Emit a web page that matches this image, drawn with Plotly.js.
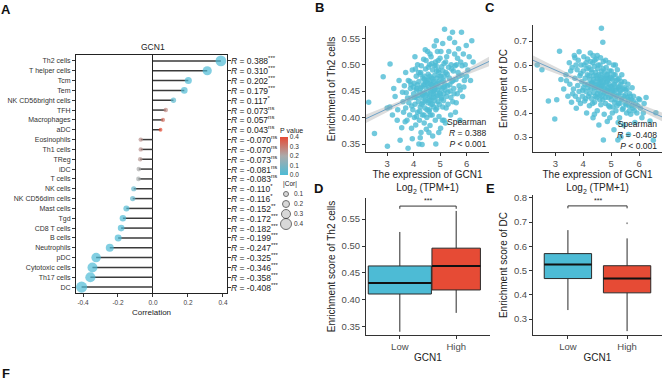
<!DOCTYPE html>
<html><head><meta charset="utf-8">
<script src="https://cdn.plot.ly/plotly-3.0.1.min.js"></script>
<style>html,body{margin:0;padding:0;background:#fff}#chart{width:669px;height:383px}</style>
</head><body><div id="chart"></div>
<script>
// ---------- Panel A data ----------
const cells = ['Th2 cells','T helper cells','Tcm','Tem','NK CD56bright cells','TFH','Macrophages','aDC','Eosinophils','Th1 cells','TReg','iDC','T cells','NK cells','NK CD56dim cells','Mast cells','Tgd','CD8 T cells','B cells','Neutrophils','pDC','Cytotoxic cells','Th17 cells','DC'];
const rVals = [0.388,0.310,0.202,0.179,0.117,0.073,0.057,0.043,-0.070,-0.070,-0.073,-0.081,-0.083,-0.110,-0.116,-0.152,-0.172,-0.182,-0.199,-0.247,-0.325,-0.346,-0.358,-0.408];
const pVals = [0.0001,0.0001,0.0001,0.003,0.03,0.27,0.33,0.40,0.25,0.25,0.24,0.20,0.19,0.05,0.045,0.01,0.001,0.001,0.0005,0.0001,0.0001,0.0001,0.0001,0.0001];
const sigs = ['***','***','***','***','*','ns','ns','ns','ns','ns','ns','ns','ns','*','*','**','***','***','***','***','***','***','***','***'];
const corLegend = [0.1,0.2,0.3,0.4];
const pTicks = [0,0.1,0.2,0.3,0.4];

// ---------- Panel B data (GCN1 vs Th2) ----------
const xB = [2.30,2.52,2.85,3.01,3.11,3.10,3.20,3.30,3.38,3.45,3.49,3.55,3.60,3.62,3.65,3.70,3.72,3.75,3.79,3.80,3.82,3.85,3.88,3.90,3.92,3.95,3.97,4.00,4.02,4.03,4.05,4.08,4.10,4.10,4.12,4.15,4.15,4.18,4.20,4.20,4.22,4.24,4.25,4.27,4.28,4.30,4.30,4.32,4.33,4.35,4.36,4.38,4.40,4.40,4.42,4.43,4.45,4.46,4.48,4.48,4.50,4.50,4.52,4.53,4.55,4.55,4.57,4.58,4.60,4.60,4.62,4.62,4.64,4.65,4.66,4.68,4.68,4.70,4.70,4.72,4.72,4.74,4.75,4.76,4.78,4.78,4.80,4.80,4.82,4.83,4.84,4.85,4.86,4.88,4.88,4.90,4.90,4.92,4.94,4.95,4.96,4.98,5.00,5.00,5.02,5.04,5.05,5.06,5.08,5.10,5.10,5.12,5.14,5.15,5.17,5.18,5.20,5.22,5.24,5.25,5.28,5.30,5.32,5.35,5.36,5.38,5.40,5.42,5.45,5.47,5.48,5.50,5.52,5.55,5.58,5.60,5.62,5.65,5.68,5.70,5.72,5.75,5.78,5.81,5.82,5.85,5.88,5.92,5.95,5.99,6.05,6.10,6.20,6.25,3.90,4.10,4.35,4.55,4.75,4.95,5.15,4.45,4.65,4.85,4.25,4.60,4.80,5.05,4.40,4.70,
  3.40,3.58,3.68,3.77,3.86,3.93,3.99,4.04,4.07,4.11,4.14,4.17,4.19,4.23,4.26,4.29,4.31,4.34,4.37,4.39,4.41,4.44,4.47,4.49,4.51,4.54,4.56,4.59,4.61,4.63,4.66,4.67,4.69,4.71,4.73,4.77,4.79,4.81,4.84,4.87,4.89,4.91,4.93,4.97,4.99,5.01,5.03,5.07,5.09,5.11,5.13,5.16,5.19,5.21,5.23,5.27,5.29,5.33,5.37,5.41,5.44,5.49,5.53,5.57,5.61,5.66,5.71,5.76,5.83,5.90,4.58,4.95,4.25,5.15,3.95,4.62,4.44,4.86,4.05,3.70,5.55,6.00,6.15,3.25,3.00];
const yB = [0.429,0.370,0.477,0.346,0.501,0.420,0.405,0.440,0.395,0.470,0.357,0.381,0.430,0.410,0.460,0.418,0.447,0.395,0.342,0.470,0.428,0.405,0.455,0.437,0.380,0.490,0.415,0.445,0.465,0.400,0.425,0.386,0.478,0.438,0.455,0.410,0.500,0.430,0.350,0.468,0.395,0.448,0.420,0.485,0.372,0.458,0.438,0.349,0.405,0.475,0.428,0.510,0.447,0.390,0.462,0.418,0.492,0.435,0.455,0.378,0.470,0.400,0.445,0.525,0.428,0.482,0.458,0.412,0.440,0.500,0.465,0.385,0.450,0.425,0.515,0.475,0.438,0.455,0.405,0.490,0.365,0.445,0.468,0.420,0.535,0.458,0.432,0.480,0.395,0.505,0.350,0.462,0.440,0.475,0.418,0.452,0.525,0.430,0.490,0.468,0.402,0.447,0.512,0.458,0.380,0.478,0.435,0.496,0.455,0.420,0.540,0.470,0.445,0.502,0.567,0.462,0.390,0.485,0.440,0.515,0.460,0.425,0.495,0.475,0.550,0.450,0.405,0.500,0.468,0.561,0.430,0.488,0.455,0.520,0.410,0.472,0.500,0.445,0.485,0.530,0.460,0.395,0.505,0.561,0.480,0.440,0.520,0.470,0.500,0.536,0.490,0.515,0.545,0.505,0.462,0.452,0.442,0.472,0.448,0.485,0.458,0.467,0.433,0.498,0.482,0.415,0.452,0.438,0.472,0.462,
  0.415,0.448,0.392,0.437,0.468,0.422,0.458,0.438,0.492,0.402,0.462,0.442,0.485,0.412,0.455,0.498,0.425,0.445,0.462,0.405,0.478,0.432,0.508,0.442,0.415,0.465,0.495,0.432,0.478,0.405,0.462,0.448,0.502,0.425,0.472,0.438,0.498,0.455,0.415,0.488,0.465,0.442,0.508,0.425,0.478,0.445,0.525,0.468,0.395,0.488,0.432,0.478,0.452,0.505,0.418,0.482,0.448,0.525,0.462,0.438,0.492,0.470,0.445,0.498,0.428,0.512,0.478,0.452,0.498,0.458,0.372,0.372,0.362,0.395,0.360,0.520,0.528,0.545,0.515,0.485,0.542,0.478,0.470,0.455,0.418];
const fitBx = [2.2,3.5,4.6,5.7,6.85];
const fitBy = [0.398,0.428,0.454,0.479,0.506];
const bandBlo = [0.390,0.424,0.4515,0.475,0.497];
const bandBhi = [0.406,0.432,0.4565,0.483,0.515];

// ---------- Panel C data (GCN1 vs DC) ----------
const xC = [2.35,2.52,2.75,2.98,3.05,3.15,3.20,3.30,3.38,3.45,3.50,3.52,3.58,3.60,3.65,3.68,3.70,3.72,3.75,3.78,3.80,3.82,3.85,3.88,3.90,3.92,3.95,3.97,4.00,4.00,4.02,4.05,4.07,4.10,4.10,4.12,4.15,4.16,4.18,4.20,4.22,4.24,4.25,4.27,4.28,4.30,4.32,4.34,4.35,4.36,4.38,4.40,4.40,4.42,4.44,4.45,4.46,4.48,4.50,4.50,4.52,4.54,4.55,4.56,4.58,4.60,4.60,4.62,4.63,4.65,4.65,4.66,4.68,4.70,4.70,4.70,4.72,4.72,4.74,4.75,4.76,4.78,4.80,4.80,4.82,4.83,4.85,4.86,4.88,4.88,4.90,4.92,4.93,4.95,4.96,4.98,5.00,5.00,5.02,5.04,5.05,5.07,5.08,5.10,5.10,5.12,5.14,5.15,5.17,5.18,5.20,5.22,5.24,5.25,5.26,5.28,5.30,5.32,5.34,5.36,5.38,5.40,5.42,5.45,5.46,5.48,5.50,5.52,5.55,5.58,5.60,5.62,5.64,5.66,5.70,5.72,5.75,5.78,5.80,5.85,5.88,5.92,5.98,6.05,6.10,6.18,6.25,6.39,6.51,6.60,5.35,4.45,4.60,4.75,4.90,5.05,4.55,4.85,4.30,4.68,
  3.40,3.55,3.62,3.74,3.83,3.91,3.98,4.03,4.06,4.09,4.13,4.17,4.21,4.23,4.26,4.29,4.31,4.33,4.37,4.39,4.41,4.43,4.47,4.49,4.51,4.53,4.57,4.59,4.61,4.64,4.67,4.69,4.71,4.73,4.77,4.79,4.81,4.84,4.87,4.89,4.91,4.94,4.97,4.99,5.01,5.03,5.06,5.09,5.11,5.13,5.16,5.19,5.21,5.23,5.27,5.29,5.31,5.33,5.37,5.39,5.43,5.47,5.51,5.54,5.57,5.61,5.65,5.69,5.74,5.79,5.83,5.95,6.02,6.15,4.50,4.62,4.35,4.80,4.15,5.15,4.95,4.40,5.25,3.85,3.70];
const yC = [0.600,0.580,0.450,0.375,0.455,0.658,0.540,0.500,0.560,0.470,0.610,0.520,0.445,0.590,0.500,0.640,0.545,0.470,0.420,0.580,0.515,0.620,0.490,0.555,0.440,0.600,0.530,0.470,0.575,0.505,0.635,0.450,0.545,0.610,0.490,0.400,0.560,0.520,0.470,0.590,0.430,0.540,0.650,0.500,0.580,0.460,0.525,0.610,0.380,0.555,0.485,0.595,0.445,0.530,0.570,0.505,0.625,0.465,0.545,0.410,0.585,0.495,0.560,0.350,0.520,0.600,0.475,0.540,0.435,0.753,0.510,0.575,0.490,0.695,0.550,0.455,0.288,0.615,0.525,0.395,0.570,0.500,0.545,0.440,0.590,0.480,0.530,0.365,0.560,0.505,0.465,0.610,0.520,0.425,0.550,0.490,0.575,0.455,0.510,0.400,0.540,0.475,0.600,0.520,0.330,0.445,0.560,0.495,0.410,0.535,0.470,0.580,0.288,0.505,0.440,0.545,0.380,0.485,0.520,0.455,0.560,0.415,0.500,0.350,0.470,0.530,0.440,0.495,0.400,0.465,0.520,0.310,0.430,0.480,0.395,0.455,0.505,0.420,0.470,0.360,0.440,0.400,0.460,0.420,0.380,0.440,0.465,0.367,0.287,0.401,0.300,0.515,0.530,0.485,0.540,0.500,0.510,0.495,0.525,0.515,
  0.535,0.575,0.480,0.600,0.455,0.565,0.495,0.600,0.520,0.460,0.585,0.505,0.555,0.480,0.615,0.520,0.570,0.440,0.540,0.505,0.620,0.470,0.555,0.520,0.480,0.600,0.540,0.455,0.510,0.560,0.470,0.530,0.585,0.500,0.545,0.465,0.520,0.560,0.490,0.540,0.430,0.575,0.510,0.470,0.545,0.490,0.425,0.560,0.480,0.520,0.455,0.500,0.430,0.540,0.475,0.510,0.440,0.495,0.530,0.460,0.420,0.505,0.475,0.435,0.500,0.455,0.410,0.470,0.430,0.450,0.410,0.430,0.455,0.400,0.640,0.630,0.640,0.620,0.625,0.600,0.380,0.395,0.360,0.655,0.630];
const fitCx = [2.2,3.5,4.6,5.7,6.82];
const fitCy = [0.620,0.554,0.498,0.441,0.384];
const bandClo = [0.600,0.544,0.492,0.431,0.366];
const bandChi = [0.640,0.564,0.504,0.451,0.402];

// ---------- Panels D / E data (boxplots) ----------
const groups = ['Low','High'];
const boxColors = ['#4DBBD5','#E64B35'];
const dLower = [0.341,0.376], dQ1 = [0.411,0.4185], dMed = [0.4315,0.463], dQ3 = [0.463,0.496], dUpper = [0.526,0.565];
const eLower = [0.337,0.250], eQ1 = [0.467,0.408], eMed = [0.525,0.467], eQ3 = [0.570,0.520], eUpper = [0.667,0.633];
const eOutY = [0.695];
const bracketD = [0.569,0.574];
const bracketE = [0.757,0.767];

// ---------- styling ----------
const FONT = 'Liberation Sans, Arial, sans-serif';
const W = 669, H = 383;
const px = v => v / W, py = v => 1 - v / H;
const sizeOf = r => 3 + 20 * Math.abs(r);
const ptColor = 'rgba(77,187,213,0.8)';
const boxWD = [1.12, 0.86];
const boxWE = [0.8, 0.8];

const traces = [];
traces.push({type:'scatter', mode:'lines', xaxis:'x', yaxis:'y',
  x: rVals.flatMap(r => [0, r, null]), y: cells.flatMap(c => [c, c, null]),
  line:{color:'#3a3a3a', width:1.5}, hoverinfo:'skip', showlegend:false});
traces.push({type:'scatter', mode:'markers', xaxis:'x', yaxis:'y', x: rVals, y: cells,
  marker:{size: rVals.map(sizeOf), color: pVals, cmin:0, cmax:0.4,
    colorscale:[[0,'#4DBBD5'],[0.5,'#ABABAB'],[1,'#E64B35']], line:{width:0},
    colorbar:{x:px(280), xanchor:'left', xpad:0, ypad:0, y:py(150), yanchor:'middle', len:50, lenmode:'pixels',
      thickness:8, outlinewidth:0, ticks:'', tickvals:pTicks, ticktext:pTicks.map(v=>v.toFixed(1)),
      tickfont:{size:6.5, color:'#333', family:FONT},
      title:{text:'P value', side:'top', font:{size:7, color:'#222', family:FONT}}}},
  showlegend:false, hoverinfo:'skip'});
traces.push({type:'scatter', mode:'markers', xaxis:'x6', yaxis:'y6', x: corLegend.map(()=>0), y: corLegend, cliponaxis:false,
  marker:{size: corLegend.map(sizeOf), color:'#c8c8c8', line:{color:'#333', width:1}}, showlegend:false, hoverinfo:'skip'});
traces.push({type:'scatter', mode:'text', xaxis:'x6', yaxis:'y6', x: corLegend.map(()=>0.8), y: corLegend, cliponaxis:false,
  text: corLegend.map(v=>v.toFixed(1)), textposition:'middle right', textfont:{size:6.5, color:'#333', family:FONT},
  showlegend:false, hoverinfo:'skip'});

traces.push({type:'scatter', mode:'markers', xaxis:'x2', yaxis:'y2', x:xB, y:yB,
  marker:{size:5.5, color:ptColor}, showlegend:false, hoverinfo:'skip'});
traces.push({type:'scatter', mode:'lines', xaxis:'x2', yaxis:'y2', x:fitBx, y:bandBlo, line:{width:0}, showlegend:false, hoverinfo:'skip'});
traces.push({type:'scatter', mode:'lines', xaxis:'x2', yaxis:'y2', x:fitBx, y:bandBhi, line:{width:0}, fill:'tonexty', fillcolor:'rgba(170,170,170,0.4)', showlegend:false, hoverinfo:'skip'});
traces.push({type:'scatter', mode:'lines', xaxis:'x2', yaxis:'y2', x:fitBx, y:fitBy, line:{color:'#6FA3C7', width:1}, showlegend:false, hoverinfo:'skip'});
traces.push({type:'scatter', mode:'markers', xaxis:'x3', yaxis:'y3', x:xC, y:yC,
  marker:{size:5.5, color:ptColor}, showlegend:false, hoverinfo:'skip'});
traces.push({type:'scatter', mode:'lines', xaxis:'x3', yaxis:'y3', x:fitCx, y:bandClo, line:{width:0}, showlegend:false, hoverinfo:'skip'});
traces.push({type:'scatter', mode:'lines', xaxis:'x3', yaxis:'y3', x:fitCx, y:bandChi, line:{width:0}, fill:'tonexty', fillcolor:'rgba(170,170,170,0.4)', showlegend:false, hoverinfo:'skip'});
traces.push({type:'scatter', mode:'lines', xaxis:'x3', yaxis:'y3', x:fitCx, y:fitCy, line:{color:'#6FA3C7', width:1}, showlegend:false, hoverinfo:'skip'});

function addBoxes(xa, ya, lo, q1, med, q3, up, br, widths){
  groups.forEach((g,i)=>{
    const w = widths[i];
    traces.push({type:'box', xaxis:xa, yaxis:ya, x:[i], lowerfence:[lo[i]], q1:[q1[i]], median:[med[i]], q3:[q3[i]], upperfence:[up[i]],
      width:w, whiskerwidth:0, fillcolor:boxColors[i], line:{color:'#2a2a2a', width:1}, boxpoints:false, showlegend:false, hoverinfo:'skip'});
    traces.push({type:'scatter', mode:'lines', xaxis:xa, yaxis:ya, x:[i-w/2, i+w/2], y:[med[i], med[i]],
      line:{color:'#111', width:2}, showlegend:false, hoverinfo:'skip'});
  });
  traces.push({type:'scatter', mode:'lines', xaxis:xa, yaxis:ya, x:[0,0,1,1], y:[br[0],br[1],br[1],br[0]],
    line:{color:'#333', width:1}, showlegend:false, hoverinfo:'skip'});
}
addBoxes('x4','y4', dLower,dQ1,dMed,dQ3,dUpper, bracketD, boxWD);
addBoxes('x5','y5', eLower,eQ1,eMed,eQ3,eUpper, bracketE, boxWE);
traces.push({type:'scatter', mode:'markers', xaxis:'x5', yaxis:'y5', x:eOutY.map(()=>1), y:eOutY,
  marker:{size:2, color:'#999'}, showlegend:false, hoverinfo:'skip'});

const tickFontS = {size:9.5, color:'#4d4d4d', family:FONT};
const titleFontS = {size:10, color:'#222', family:FONT};
function simpleAxis(extra){
  return Object.assign({showline:true, linecolor:'#333', linewidth:1, ticks:'outside', ticklen:3, tickcolor:'#333',
    showgrid:false, zeroline:false, tickfont:tickFontS, fixedrange:true}, extra);
}

const layout = {
  width:W, height:H, margin:{l:0,r:0,t:0,b:0}, paper_bgcolor:'#fff', plot_bgcolor:'rgba(0,0,0,0)',
  font:{family:FONT, color:'#222'}, showlegend:false, boxmode:'overlay',
  xaxis:{domain:[px(76),px(227)], anchor:'y', range:[-0.44,0.423], tickvals:[-0.4,-0.2,0,0.2,0.4], ticktext:['-0.4','-0.2','0.0','0.2','0.4'],
    showline:true, mirror:true, linecolor:'#222', linewidth:1, ticks:'outside', ticklen:3, tickcolor:'#333',
    showgrid:false, zeroline:true, zerolinecolor:'#222', zerolinewidth:1, tickfont:{size:6.5,color:'#444',family:FONT},
    title:{text:'Correlation', font:{size:8,color:'#222',family:FONT}, standoff:4}},
  yaxis:{domain:[py(293),py(55)], anchor:'x', type:'category', range:[cells.length-0.4, -0.6],
    showline:true, mirror:'ticks', linecolor:'#222', linewidth:1, ticks:'outside', ticklen:3, tickcolor:'#333',
    showgrid:false, zeroline:false, tickfont:{size:7,color:'#333',family:FONT}},
  xaxis6:{domain:[px(280),px(300)], anchor:'y6', range:[-0.6,1.4], visible:false},
  yaxis6:{domain:[py(229),py(189)], anchor:'x6', range:[0.45,0.05], visible:false},
  xaxis2: simpleAxis({domain:[px(366),px(489)], anchor:'y2', range:[2.2,6.85], tickvals:[3,4,5,6],
    title:{text:'The expression of GCN1<br>Log<sub>2</sub> (TPM+1)', font:titleFontS, standoff:2}}),
  yaxis2: simpleAxis({domain:[py(152),py(26)], anchor:'x2', range:[0.335,0.573], tickvals:[0.35,0.40,0.45,0.50,0.55], tickformat:'.2f',
    title:{text:'Enrichment of Th2 cells', font:titleFontS, standoff:4}}),
  xaxis3: simpleAxis({domain:[px(533),px(662)], anchor:'y3', range:[2.2,6.82], tickvals:[3,4,5,6],
    title:{text:'The expression of GCN1<br>Log<sub>2</sub> (TPM+1)', font:titleFontS, standoff:2}}),
  yaxis3: simpleAxis({domain:[py(152),py(25)], anchor:'x3', range:[0.2375,0.767], tickvals:[0.3,0.4,0.5,0.6,0.7], tickformat:'.1f',
    title:{text:'Enrichment of DC', font:titleFontS, standoff:4}}),
  xaxis4: simpleAxis({domain:[px(366),px(490)], anchor:'y4', range:[-0.6,1.6], tickvals:[0,1], ticktext:groups,
    title:{text:'GCN1', font:titleFontS, standoff:2}}),
  yaxis4: simpleAxis({domain:[py(335),py(198)], anchor:'x4', range:[0.335,0.589], tickvals:[0.35,0.40,0.45,0.50,0.55], tickformat:'.2f',
    title:{text:'Enrichment score of Th2 cells', font:titleFontS, standoff:4}}),
  xaxis5: simpleAxis({domain:[px(533),px(662)], anchor:'y5', range:[-0.59,1.59], tickvals:[0,1], ticktext:groups,
    title:{text:'GCN1', font:titleFontS, standoff:2}}),
  yaxis5: simpleAxis({domain:[py(335),py(195)], anchor:'x5', range:[0.234,0.812], tickvals:[0.3,0.4,0.5,0.6,0.7,0.8], tickformat:'.1f',
    title:{text:'Enrichment score of DC', font:titleFontS, standoff:4}}),
  annotations:[]
};

const ann = layout.annotations;
[['A',6,9],['B',319,8],['C',490,8],['D',318,188],['E',490,188],['F',6,373]].forEach(([t,x,y])=>{
  ann.push({text:'<b>'+t+'</b>', xref:'paper', yref:'paper', x:px(x), y:py(y), xanchor:'center', yanchor:'middle', showarrow:false,
    font:{size:13, color:'#111', family:FONT}});
});
ann.push({text:'GCN1', xref:'paper', yref:'paper', x:px(153), y:py(47), xanchor:'center', yanchor:'middle', showarrow:false,
  font:{size:8.5, color:'#222', family:FONT}});
cells.forEach((c,i)=>{
  ann.push({text:'<i>R</i> = '+rVals[i].toFixed(3)+'<sup>'+sigs[i]+'</sup>', xref:'paper', yref:'y', x:px(229), y:c,
    xanchor:'left', yanchor:'middle', showarrow:false, font:{size:8.5, color:'#222', family:FONT}});
});
ann.push({text:'|Cor|', xref:'paper', yref:'paper', x:px(281), y:py(184), xanchor:'left', yanchor:'middle', showarrow:false,
  font:{size:6.5, color:'#222', family:FONT}});
ann.push({text:'Spearman<br><i>R</i> = 0.388<br><i>P</i> < 0.001', xref:'paper', yref:'paper', x:px(488), y:py(133),
  xanchor:'right', yanchor:'middle', align:'right', showarrow:false, font:{size:8.5, color:'#222', family:FONT}});
ann.push({text:'Spearman<br><i>R</i> = -0.408<br><i>P</i> < 0.001', xref:'paper', yref:'paper', x:px(659), y:py(135),
  xanchor:'right', yanchor:'middle', align:'right', showarrow:false, font:{size:8.5, color:'#222', family:FONT}});
ann.push({text:'***', xref:'x4', yref:'y4', x:0.5, y:bracketD[1], xanchor:'center', yanchor:'bottom', showarrow:false, font:{size:7, color:'#222', family:FONT}});
ann.push({text:'***', xref:'x5', yref:'y5', x:0.5, y:bracketE[1], xanchor:'center', yanchor:'bottom', showarrow:false, font:{size:7, color:'#222', family:FONT}});

Plotly.newPlot('chart', traces, layout, {staticPlot:true, displayModeBar:false});
</script>
</body></html>
